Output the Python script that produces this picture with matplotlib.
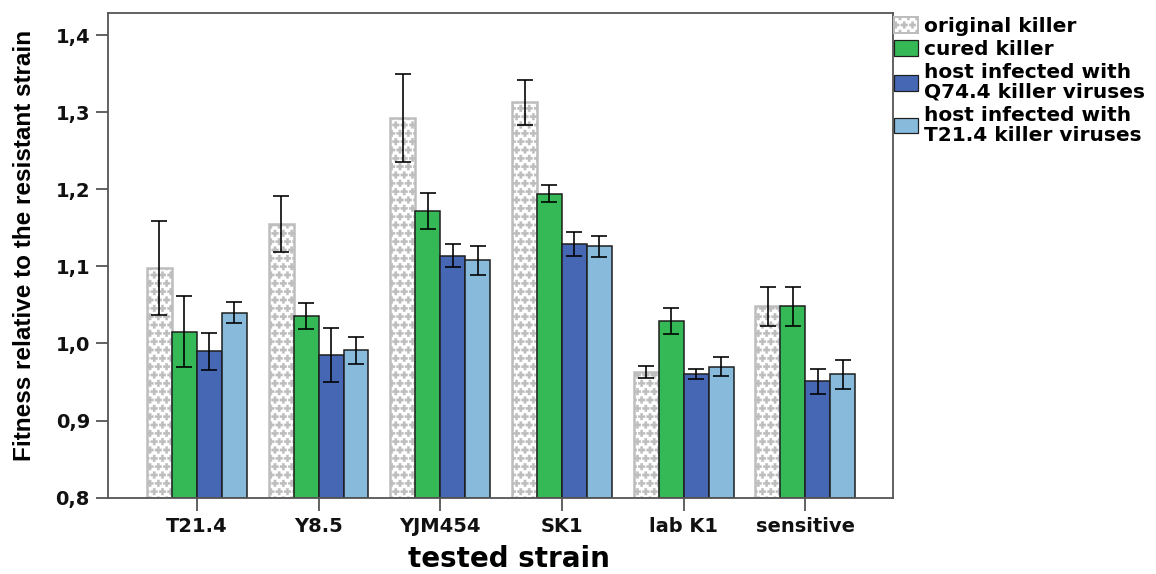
import numpy as np
import matplotlib
matplotlib.use("Agg")
import matplotlib.pyplot as plt
import matplotlib.hatch as mhatch
from matplotlib.path import Path
from matplotlib.patches import Patch
from matplotlib.ticker import FuncFormatter

# ---- data -------------------------------------------------------------
strains = ["T21.4", "Y8.5", "YJM454", "SK1", "lab K1", "sensitive"]
series_labels = [
    "original killer",
    "cured killer",
    "host infected with\nQ74.4 killer viruses",
    "host infected with\nT21.4 killer viruses",
]
original_mean = [1.098, 1.155, 1.293, 1.313, 0.963, 1.048]
original_err = [0.061, 0.036, 0.057, 0.029, 0.0075, 0.025]
cured_mean = [1.015, 1.036, 1.172, 1.194, 1.029, 1.048]
cured_err = [0.046, 0.017, 0.023, 0.011, 0.017, 0.025]
q744_mean = [0.990, 0.985, 1.114, 1.129, 0.960, 0.951]
q744_err = [0.024, 0.035, 0.015, 0.015, 0.0067, 0.016]
t214_mean = [1.040, 0.991, 1.108, 1.126, 0.970, 0.960]
t214_err = [0.014, 0.017, 0.019, 0.014, 0.012, 0.019]
y_ticks = [0.8, 0.9, 1.0, 1.1, 1.2, 1.3, 1.4]


# ---- a staggered "plus sign" fill pattern, selected with '*' -------------
class PlusGlyphs(mhatch.Shapes):
    filled = True
    size = 0.40

    def __init__(self, hatch, density):
        self.num_rows = hatch.count("*") * density
        a, h = 0.33, 1.0
        v = [(-a, -h), (a, -h), (a, -a), (h, -a), (h, a), (a, a), (a, h),
             (-a, h), (-a, a), (-h, a), (-h, -a), (-a, -a), (-a, -h)]
        self.shape_vertices = np.array(v, dtype=float)
        codes = np.full(len(v), Path.LINETO, dtype=Path.code_type)
        codes[0] = Path.MOVETO
        codes[-1] = Path.CLOSEPOLY
        self.shape_codes = codes
        super().__init__(hatch, density)


mhatch._hatch_types = [PlusGlyphs if t is mhatch.Stars else t
                       for t in mhatch._hatch_types]
plt.rcParams["hatch.linewidth"] = 0.3

# ---- figure -----------------------------------------------------------
W, H = 1156, 574
fig = plt.figure(figsize=(W / 100, H / 100), dpi=100)
ax = fig.add_axes([108 / W, 1 - 497.7 / H, 785 / W, 485 / H])

means = [original_mean, cured_mean, q744_mean, t214_mean]
errs = [original_err, cured_err, q744_err, t214_err]
faces = ["white", "#34B956", "#4668B4", "#88BADC"]
edges = ["#BDBDBD", "#1E1E1E", "#1E1E1E", "#1E1E1E"]
hatches = ["**", None, None, None]
lws = [1.8, 1.1, 1.1, 1.1]

x = np.arange(len(strains))
bw = 0.205
for j in range(4):
    pos = x + (j - 1.5) * bw
    ax.bar(pos, np.array(means[j]) - 0.8, bottom=0.8, width=bw,
           color=faces[j], edgecolor=edges[j], hatch=hatches[j],
           linewidth=lws[j], zorder=2)
    ax.errorbar(pos, means[j], yerr=errs[j], fmt="none", ecolor="black",
                elinewidth=1.3, capsize=5.5, capthick=1.3, zorder=3, alpha=0.9)

ax.set_xlim(-0.73, 5.72)
ax.set_ylim(0.8, 1.429)
ax.set_yticks(y_ticks)
ax.yaxis.set_major_formatter(FuncFormatter(lambda v, p: f"{v:.1f}".replace(".", ",")))
ax.set_xticks(x)
ax.set_xticklabels(strains)

for lab in ax.get_xticklabels() + ax.get_yticklabels():
    lab.set_fontfamily("DejaVu Sans")
    lab.set_fontweight("bold")
    lab.set_fontsize(14)
    lab.set_color("#111111")

for sp in ax.spines.values():
    sp.set_color("#555555")
    sp.set_linewidth(1.3)
ax.tick_params(axis="both", direction="out", length=9, width=1.3,
               color="#555555")
ax.tick_params(axis="y", pad=4)
ax.tick_params(axis="x", pad=5)

ax.set_ylabel("Fitness relative to the resistant strain",
              fontfamily="Liberation Sans", fontweight="bold", fontsize=17.5)
ax.yaxis.set_label_coords(-0.092, 0.52)

ax.set_xlabel("tested strain", fontfamily="DejaVu Sans", fontweight="bold",
              fontsize=20)
ax.xaxis.set_label_coords((509 - 108) / 785, (497.7 - 573) / 485)
ax.xaxis.label.set_verticalalignment("bottom")

# ---- legend -----------------------------------------------------------
handles = [Patch(facecolor=faces[j], edgecolor=edges[j], hatch=hatches[j],
                 linewidth=lws[j] * 0.8) for j in range(4)]
leg = fig.legend(handles, series_labels, loc="upper left",
                 bbox_to_anchor=(894 / W, 1 - 17 / H),
                 frameon=False, borderpad=0, borderaxespad=0,
                 handlelength=1.2, handleheight=0.8, handletextpad=0.3,
                 labelspacing=0.2,
                 prop=dict(family="DejaVu Sans", weight="bold", size=14.5))
for t in leg.get_texts():
    t.set_linespacing(1.05)

fig.savefig("out.png", dpi=100, facecolor="white")
